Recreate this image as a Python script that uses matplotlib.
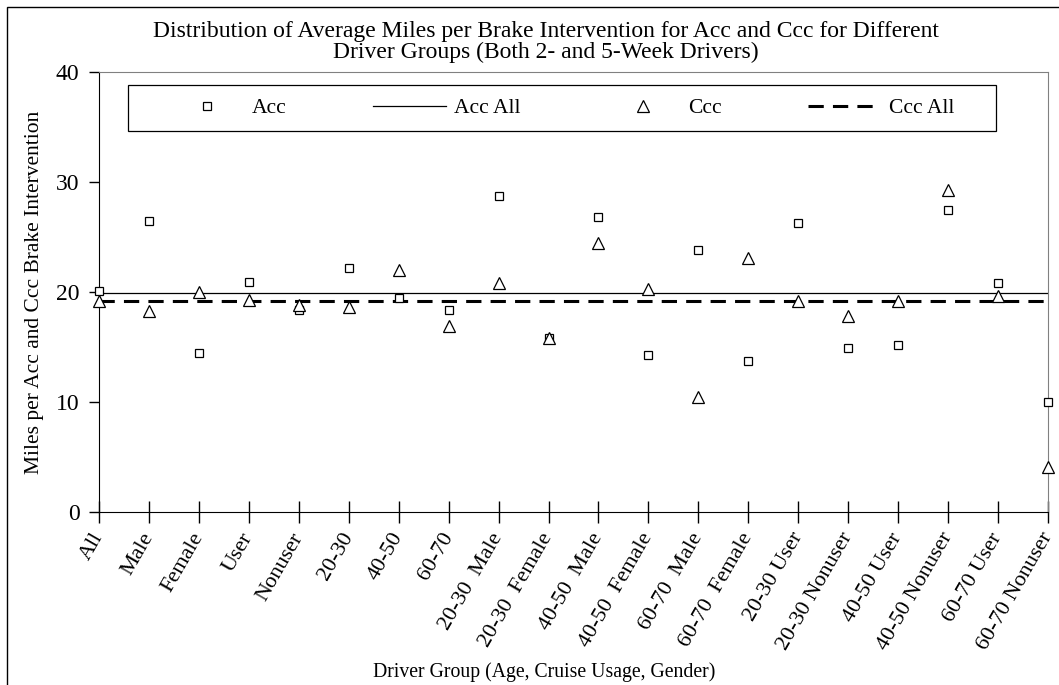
import numpy as np
import matplotlib
matplotlib.use('Agg')
import matplotlib.pyplot as plt
from matplotlib.patches import Rectangle

plt.rcParams['font.family'] = ['Liberation Serif', 'DejaVu Serif']

## data

groups = ['All', 'Male', 'Female', 'User', 'Nonuser', '20-30', '40-50', '60-70',
          '20-30  Male', '20-30  Female', '40-50  Male', '40-50  Female',
          '60-70  Male', '60-70  Female', '20-30 User', '20-30 Nonuser',
          '40-50 User', '40-50 Nonuser', '60-70 User', '60-70 Nonuser']

acc = [20.1, 26.5, 14.5, 20.9, 18.4, 22.2, 19.5, 18.4, 28.7, 15.8,
       26.8, 14.3, 23.8, 13.7, 26.3, 14.9, 15.2, 27.5, 20.8, 10.0]

ccc = [19.2, 18.3, 20.0, 19.3, 18.8, 18.6, 22.0, 16.9, 20.8, 15.8,
       24.5, 20.3, 10.5, 23.1, 19.2, 17.8, 19.2, 29.3, 19.6, 4.1]

acc_all = 19.9
ccc_all = 19.2

yticks = [0, 10, 20, 30, 40]

## plot

W, H = 1059, 685
fig = plt.figure(figsize=(W/100, H/100), dpi=100)
ax = fig.add_axes([99/W, 1 - 512/H, (1048 - 99)/W, (512 - 72)/H])

x = np.arange(len(groups))

ax.plot(x, acc, linestyle='none', marker='s', markersize=6, markerfacecolor='white',
        markeredgecolor='black', markeredgewidth=0.9, label='Acc', zorder=4, clip_on=False)
ax.plot(x, [acc_all]*len(x), color='black', linewidth=0.9, label='Acc All', zorder=2)
ax.plot(x, ccc, linestyle='none', marker='^', markersize=9, markerfacecolor='white',
        markeredgecolor='black', markeredgewidth=0.9, label='Ccc', zorder=5, clip_on=False)
ax.plot(x, [ccc_all]*len(x), color='black', linewidth=2.2, dashes=(5, 3), label='Ccc All', zorder=3)

ax.set_xlim(0, len(groups) - 1)
ax.set_ylim(0, 40)
ax.set_yticks(yticks)
ax.set_xticks(x)
ax.set_xticklabels(groups, rotation=60, ha='right', va='center', rotation_mode='anchor',
                   fontsize=16)
ax.tick_params(axis='y', direction='out', length=7, width=1, labelsize=17, pad=7)
ax.tick_params(axis='x', direction='inout', length=16, width=1, pad=8)

for s in ['top', 'right']:
    ax.spines[s].set_color('#808080')
for s in ['left', 'bottom']:
    ax.spines[s].set_color('black')

ax.set_ylabel('Miles per Acc and Ccc Brake Intervention', fontsize=15.5)
ax.yaxis.set_label_coords(-0.058, 0.5)
fig.text(544/W, 1 - 672/H, 'Driver Group (Age, Cruise Usage, Gender)',
         ha='center', va='center', fontsize=14.2)

fig.text(546/W, 1 - 37/H,
         'Distribution of Average Miles per Brake Intervention for Acc and Ccc for Different',
         ha='center', va='baseline', fontsize=17)
fig.text(546/W, 1 - 58/H, 'Driver Groups (Both 2- and 5-Week Drivers)',
         ha='center', va='baseline', fontsize=17)

# legend: items spread over one row, box drawn separately
lx0 = (162 - 99)/949
lw_ = (963 - 162)/949
ly0 = (512 - 131)/440
lh = 46/440
leg = ax.legend(loc='center', bbox_to_anchor=(lx0, ly0, lw_, lh), mode='expand', ncol=4,
                fontsize=15.5, frameon=False, handlelength=3.4, handletextpad=0.37,
                borderpad=0.4, borderaxespad=0)
ax.add_patch(Rectangle(((128 - 99)/949, ly0), (996 - 128)/949, lh, transform=ax.transAxes,
                       fill=False, edgecolor='black', linewidth=0.9, zorder=6))

fig.patches.append(Rectangle((7/W, -0.1), 1.2, 1.1 - 7/H, transform=fig.transFigure,
                             fill=False, edgecolor='black', linewidth=1))

fig.savefig('out.png', dpi=100)
